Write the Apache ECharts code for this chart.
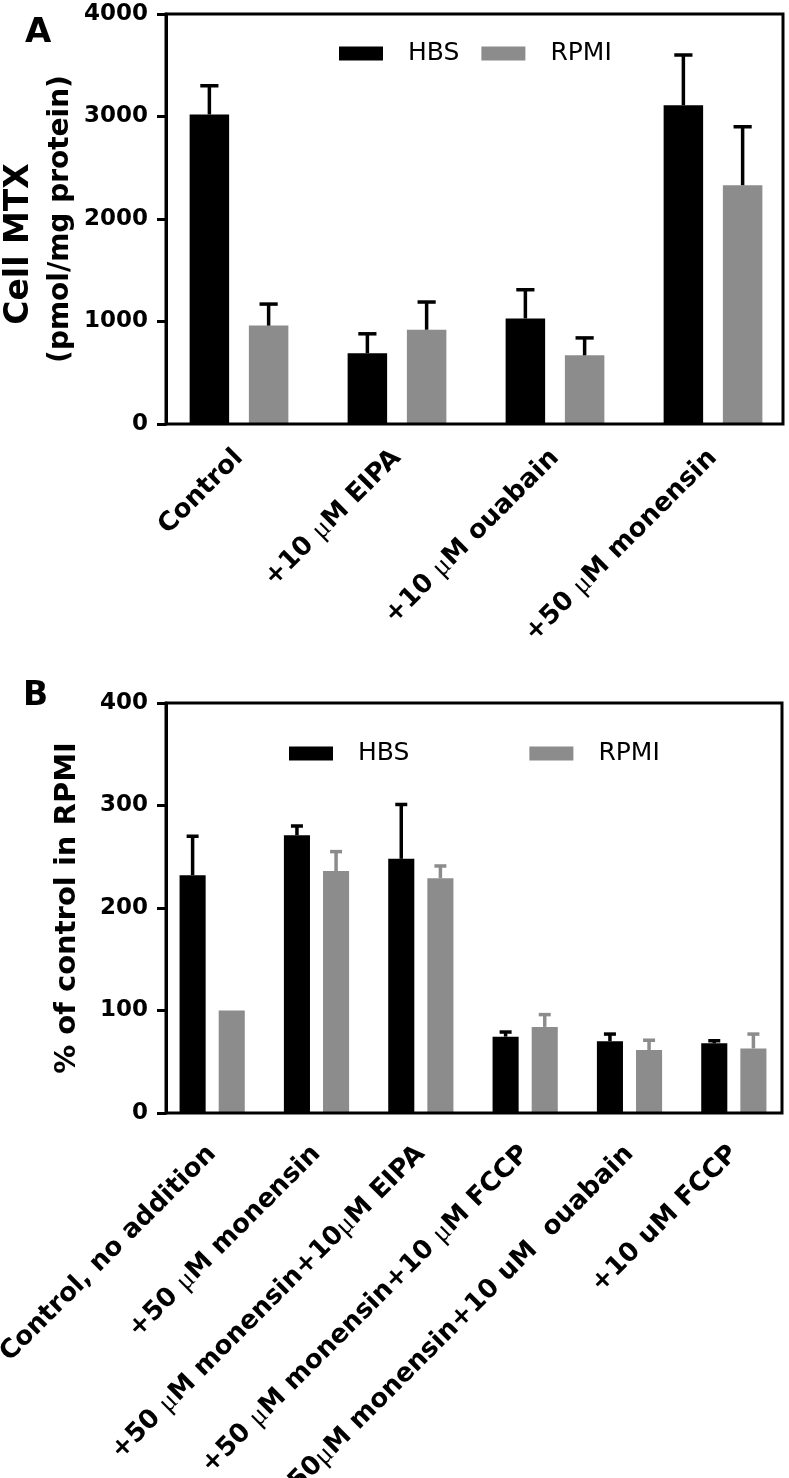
<!DOCTYPE html>
<html>
<head>
<meta charset="utf-8">
<script src="https://cdn.jsdelivr.net/npm/echarts@6/dist/echarts.min.js"></script>
<style>
  html, body { margin: 0; padding: 0; background: #fff; }
  #chart { width: 789px; height: 1478px; }
</style>
</head>
<body>
<div id="chart"></div>
<script>
// panel A
const catsA = ['Control', '+10 μM EIPA', '+10 μM ouabain', '+50 μM monensin']
const hbsA = [3020, 690, 1030, 3110]
const hbsErrA = [280, 190, 280, 490]
const rpmiA = [960, 920, 670, 2330]
const rpmiErrA = [210, 270, 170, 570]
const yTicksA = [0, 1000, 2000, 3000, 4000]

// panel B
const catsB = [
  'Control, no addition',
  '+50 μM monensin',
  '+50 μM monensin+10μM EIPA',
  '+50 μM monensin+10 μM FCCP',
  '+50μM monensin+10 uM  ouabain',
  '+10 uM FCCP'
]
const hbsB = [232, 271, 248, 74.5, 70, 68]
const hbsErrB = [38, 9, 53, 4.5, 7, 2.5]
const rpmiB = [100, 236, 229, 84, 61.5, 63]
const rpmiErrB = [0, 19, 12, 12, 9.5, 14]
const yTicksB = [0, 100, 200, 300, 400]

const BLACK = '#000'
const GRAY = '#8c8c8c'
const FONT = 'DejaVu Sans'
const LINE = { color: BLACK, width: 3 }

function errorBars(gi, means, errs, side, color) {
  return {
    type: 'custom',
    xAxisIndex: gi,
    yAxisIndex: gi,
    silent: true,
    z: 3,
    data: means.map((m, i) => [i, m, m + errs[i]]),
    renderItem(params, api) {
      if (api.value(2) <= api.value(1)) return null
      const lo = api.coord([api.value(0), api.value(1)])
      const hi = api.coord([api.value(0), api.value(2)])
      const band = api.size([1, 0])[0]
      const x = lo[0] + side * band * 0.1875
      const cap = band * 0.25 * 0.46 / 2
      const style = { stroke: color, lineWidth: 3.5 }
      return {
        type: 'group',
        children: [
          { type: 'line', shape: { x1: x, y1: lo[1], x2: x, y2: hi[1] }, style },
          { type: 'line', shape: { x1: x - cap, y1: hi[1], x2: x + cap, y2: hi[1] }, style }
        ]
      }
    }
  }
}

function barSeries(gi, name, data, color) {
  return {
    type: 'bar', name, data,
    xAxisIndex: gi, yAxisIndex: gi,
    barWidth: '25%', barGap: '50%',
    itemStyle: { color },
    z: 2
  }
}

// category band is a bit wider than the drawn box, like the original
function catAxis(gi, cats, margin) {
  return {
    type: 'category', gridIndex: gi, data: cats,
    axisLine: { show: false },
    axisTick: { alignWithLabel: true, length: 10, lineStyle: LINE },
    axisLabel: {
      interval: 0, rotate: 45, margin,
      fontFamily: FONT, fontWeight: 'bold', fontSize: 26, color: BLACK,
      formatter: v => v.replace(/μ/g, '{m|μ}'),
      rich: { m: { fontFamily: 'Liberation Serif', fontWeight: 'normal', fontSize: 28, color: BLACK } }
    }
  }
}

function valAxis(gi, ticks, offset, name, nameGap, rich) {
  return {
    type: 'value', gridIndex: gi, offset,
    min: ticks[0], max: ticks[ticks.length - 1], interval: ticks[1] - ticks[0],
    axisLine: { show: true, lineStyle: LINE },
    axisTick: { show: true, length: 9, lineStyle: LINE },
    splitLine: { show: false },
    axisLabel: { fontFamily: FONT, fontWeight: 'bold', fontSize: 23, color: BLACK, margin: 18, formatter: v => String(v) },
    name, nameLocation: 'middle', nameRotate: 90, nameGap, nameMoveOverlap: false,
    nameTextStyle: { color: BLACK, fontFamily: FONT, fontWeight: 'bold', fontSize: 29, lineHeight: 30, rich }
  }
}

const hiddenAxis = gi => ({ type: 'value', gridIndex: gi, show: false, min: 0, max: 1 })

function frameGrid(left, top, width, height) {
  return { left, top, width, height, z: 5, outerBoundsMode: 'none', show: true, borderColor: BLACK, borderWidth: 3, backgroundColor: 'transparent' }
}

function legendAt(left, top, gap) {
  return {
    data: ['HBS', 'RPMI'], left, top, icon: 'rect',
    itemWidth: 44, itemHeight: 14, itemGap: gap, selectedMode: false,
    textStyle: { fontFamily: FONT, fontSize: 25, color: BLACK, padding: [0, 0, 0, 20] }
  }
}

const chart = echarts.init(document.getElementById('chart'))
chart.setOption({
  animation: false,
  backgroundColor: '#fff',
  title: [
    { text: 'A', left: 25, top: 16, padding: 0, textStyle: { fontFamily: FONT, fontWeight: 'bold', fontSize: 34, color: BLACK } },
    { text: 'B', left: 23, top: 680, padding: 0, textStyle: { fontFamily: FONT, fontWeight: 'bold', fontSize: 33, color: BLACK } }
  ],
  legend: [legendAt(334, 36, 22), legendAt(284, 736, 120)],
  grid: [
    { left: 160, top: 14, width: 632, height: 410, outerBoundsMode: 'none' },
    { left: 160, top: 703, width: 626, height: 410, outerBoundsMode: 'none' },
    frameGrid(166, 14, 617, 410),
    frameGrid(166, 703, 616, 410)
  ],
  xAxis: [catAxis(0, catsA, 30), catAxis(1, catsB, 37), hiddenAxis(2), hiddenAxis(3)],
  yAxis: [
    valAxis(0, yTicksA, -6, '{a|Cell MTX}\n{b|(pmol/mg protein)}', 85, {
      a: { fontFamily: FONT, fontWeight: 'bold', fontSize: 33, lineHeight: 41, color: BLACK, padding: [0, 50, 0, 0] },
      b: { fontFamily: FONT, fontWeight: 'bold', fontSize: 28, lineHeight: 41, color: BLACK }
    }),
    valAxis(1, yTicksB, -6, '% of control in RPMI', 84),
    hiddenAxis(2),
    hiddenAxis(3)
  ],
  series: [
    barSeries(0, 'HBS', hbsA, BLACK),
    barSeries(0, 'RPMI', rpmiA, GRAY),
    errorBars(0, hbsA, hbsErrA, -1, BLACK),
    errorBars(0, rpmiA, rpmiErrA, 1, BLACK),
    barSeries(1, 'HBS', hbsB, BLACK),
    barSeries(1, 'RPMI', rpmiB, GRAY),
    errorBars(1, hbsB, hbsErrB, -1, BLACK),
    errorBars(1, rpmiB, rpmiErrB, 1, GRAY)
  ]
})
</script>
</body>
</html>
